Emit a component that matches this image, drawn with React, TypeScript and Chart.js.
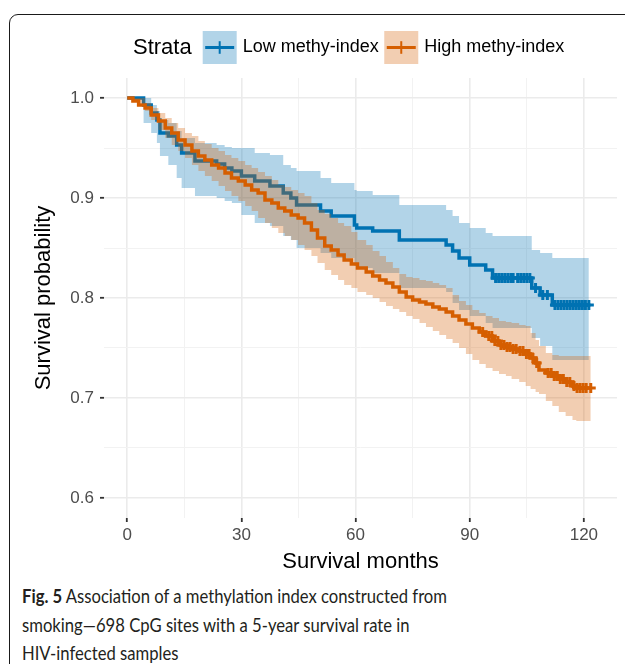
import React, { useEffect, useRef } from "react";
import { Chart, registerables } from "chart.js";

Chart.register(...registerables);

// ---------------- DATA ----------------
const strataLabels = ["Low methy-index", "High methy-index"];
const legendTitle = "Strata";
const xTitle = "Survival months";
const yTitle = "Survival probability";

const xMajorTicks = [0, 30, 60, 90, 120];
const xMinorTicks = [15, 45, 75, 105];
const yMajorTicks = [0.6, 0.7, 0.8, 0.9, 1.0];
const yMinorTicks = [0.65, 0.75, 0.85, 0.95];

// Low methy-index (blue)
const lowTimes = [0, 4.3, 6.3, 7.8, 8.6, 10.8, 13.0, 14.3, 17.8, 23.5, 25.6, 27.5, 30.0, 33.5, 37.5, 41.0, 43.0, 44.5, 50.8, 53.6, 59.7, 60.3, 64.5, 71.5, 83.8, 85.5, 87.2, 90.0, 94.2, 96.0, 106.3, 108.5, 111.7, 121.3];
const lowSurv = [1.0, 0.993, 0.985, 0.978, 0.965, 0.962, 0.953, 0.945, 0.937, 0.934, 0.930, 0.927, 0.922, 0.917, 0.912, 0.905, 0.900, 0.893, 0.887, 0.882, 0.873, 0.870, 0.867, 0.858, 0.853, 0.847, 0.840, 0.833, 0.828, 0.820, 0.810, 0.803, 0.793, 0.793];
const lowUpper = [1.0, 1.0, 0.993, 0.987, 0.978, 0.975, 0.967, 0.960, 0.955, 0.953, 0.951, 0.950, 0.950, 0.945, 0.943, 0.933, 0.930, 0.927, 0.920, 0.915, 0.908, 0.907, 0.903, 0.893, 0.888, 0.882, 0.875, 0.870, 0.865, 0.862, 0.848, 0.845, 0.840, 0.840];
const lowLower = [1.0, 0.975, 0.965, 0.955, 0.942, 0.933, 0.920, 0.910, 0.902, 0.900, 0.897, 0.895, 0.883, 0.875, 0.872, 0.862, 0.858, 0.850, 0.845, 0.840, 0.832, 0.830, 0.825, 0.810, 0.806, 0.795, 0.788, 0.782, 0.775, 0.770, 0.760, 0.752, 0.738, 0.738];
const lowCensorTimes = [96.8, 97.6, 98.4, 99.2, 100.0, 100.8, 101.4, 102.6, 103.4, 104.2, 105.0, 105.8, 107.3, 109.2, 110.4, 112.4, 113.2, 114.0, 114.8, 115.6, 116.4, 117.2, 118.0, 118.8, 119.6, 120.4, 121.3];
const lowCensorSurv = [0.82, 0.82, 0.82, 0.82, 0.82, 0.82, 0.82, 0.82, 0.82, 0.82, 0.82, 0.82, 0.81, 0.803, 0.803, 0.793, 0.793, 0.793, 0.793, 0.793, 0.793, 0.793, 0.793, 0.793, 0.793, 0.793, 0.793];

// High methy-index (orange)
const highTimes = [0, 1.5, 3.0, 4.7, 6.3, 8.2, 10.0, 11.7, 13.4, 15.2, 17.0, 18.7, 20.4, 22.2, 24.0, 25.7, 27.4, 29.2, 31.0, 32.7, 34.4, 36.2, 38.0, 39.7, 41.4, 43.1, 44.9, 46.6, 48.4, 50.0, 51.9, 53.6, 55.4, 57.0, 58.9, 60.5, 62.8, 64.5, 66.3, 68.0, 69.8, 71.5, 73.3, 75.0, 76.8, 78.5, 80.3, 82.0, 83.8, 85.5, 87.2, 89.0, 90.7, 92.5, 94.2, 96.0, 97.7, 99.5, 101.0, 103.0, 104.7, 106.0, 107.3, 108.2, 110.0, 111.7, 113.4, 115.2, 117.0, 118.0, 121.8];
const highSurv = [1.0, 0.997, 0.993, 0.990, 0.983, 0.977, 0.970, 0.965, 0.958, 0.953, 0.947, 0.942, 0.938, 0.933, 0.930, 0.925, 0.920, 0.917, 0.913, 0.908, 0.905, 0.898, 0.895, 0.890, 0.887, 0.883, 0.880, 0.875, 0.868, 0.860, 0.852, 0.848, 0.843, 0.838, 0.834, 0.830, 0.826, 0.822, 0.818, 0.815, 0.811, 0.806, 0.801, 0.798, 0.796, 0.794, 0.791, 0.789, 0.786, 0.782, 0.778, 0.774, 0.770, 0.766, 0.762, 0.757, 0.753, 0.751, 0.749, 0.747, 0.744, 0.740, 0.735, 0.728, 0.725, 0.722, 0.719, 0.716, 0.712, 0.710, 0.710];
const highUpper = [1.0, 1.0, 1.0, 0.995, 0.990, 0.985, 0.980, 0.975, 0.970, 0.965, 0.962, 0.957, 0.954, 0.950, 0.947, 0.943, 0.940, 0.937, 0.933, 0.930, 0.926, 0.922, 0.918, 0.913, 0.911, 0.908, 0.905, 0.902, 0.895, 0.888, 0.884, 0.880, 0.875, 0.872, 0.866, 0.858, 0.853, 0.847, 0.842, 0.836, 0.830, 0.824, 0.821, 0.820, 0.818, 0.817, 0.815, 0.813, 0.810, 0.803, 0.797, 0.793, 0.788, 0.785, 0.782, 0.780, 0.777, 0.776, 0.775, 0.773, 0.772, 0.765, 0.758, 0.752, 0.745, 0.743, 0.742, 0.742, 0.742, 0.742, 0.742];
const highLower = [1.0, 0.998, 0.995, 0.987, 0.978, 0.968, 0.960, 0.953, 0.947, 0.940, 0.933, 0.927, 0.922, 0.917, 0.912, 0.907, 0.902, 0.897, 0.892, 0.887, 0.880, 0.875, 0.870, 0.865, 0.862, 0.858, 0.853, 0.848, 0.842, 0.835, 0.828, 0.823, 0.818, 0.813, 0.810, 0.806, 0.803, 0.800, 0.796, 0.792, 0.789, 0.786, 0.782, 0.779, 0.775, 0.771, 0.767, 0.763, 0.759, 0.755, 0.750, 0.744, 0.738, 0.734, 0.730, 0.727, 0.724, 0.722, 0.719, 0.716, 0.712, 0.709, 0.706, 0.704, 0.697, 0.692, 0.686, 0.682, 0.678, 0.677, 0.677];
const highCensorTimes = [93.4, 95.0, 95.8, 96.6, 97.4, 98.2, 99.0, 99.8, 100.6, 101.4, 102.2, 103.2, 104.0, 104.9, 105.6, 106.6, 107.6, 110.6, 111.4, 112.2, 113.0, 113.8, 114.6, 115.5, 116.3, 117.4, 118.2, 119.0, 119.8, 120.6, 121.8];
const highCensorSurv = [0.766, 0.762, 0.762, 0.757, 0.757, 0.753, 0.753, 0.751, 0.751, 0.749, 0.749, 0.747, 0.747, 0.744, 0.744, 0.740, 0.735, 0.725, 0.725, 0.722, 0.722, 0.719, 0.719, 0.716, 0.716, 0.712, 0.710, 0.710, 0.710, 0.710, 0.710];

// ---------------- STYLE ----------------
const FONT = "'Liberation Sans', Arial, Helvetica, sans-serif";
const lineColors = ["#0072B2", "#D55E00"];
const bandColors = ["rgba(0,114,178,0.3)", "rgba(213,94,0,0.3)"];
const X_MIN = -6.1;
const X_MAX = 128.7;
const Y_MIN = 0.58;
const Y_MAX = 1.02;

const pts = (xs: number[], ys: number[]) => xs.map((x, i) => ({ x, y: ys[i] }));
const isIn = (v: number, arr: number[]) => arr.some((a) => Math.abs(a - v) < 1e-6);

const legendPlugin = {
  id: "kmLegend",
  afterDraw(chart: any) {
    const ctx = chart.ctx;
    ctx.save();
    ctx.textBaseline = "middle";
    ctx.textAlign = "left";
    ctx.font = `22px ${FONT}`;
    ctx.fillStyle = "#000";
    const cy = 47.5;
    let x = 133;
    ctx.fillText(legendTitle, x, cy);
    x += ctx.measureText(legendTitle).width + 11;
    strataLabels.forEach((label, i) => {
      const w = 34;
      const h = 33;
      ctx.fillStyle = bandColors[i];
      ctx.fillRect(x, cy - h / 2, w, h);
      ctx.strokeStyle = lineColors[i];
      ctx.lineWidth = 3;
      ctx.beginPath();
      ctx.moveTo(x + 2.5, cy);
      ctx.lineTo(x + w - 2.5, cy);
      ctx.stroke();
      ctx.lineWidth = 2;
      ctx.beginPath();
      ctx.moveTo(x + w / 2, cy - 6.3);
      ctx.lineTo(x + w / 2, cy + 6.3);
      ctx.stroke();
      x += w + 6;
      ctx.font = `18px ${FONT}`;
      ctx.fillStyle = "#000";
      ctx.fillText(label, x, cy);
      x += ctx.measureText(label).width + 5.5;
    });
    ctx.restore();
  },
};

function gridOpts(major: number[]) {
  return {
    drawOnChartArea: true,
    drawTicks: true,
    tickLength: 4,
    color: (c: any) => (isIn(c.tick?.value, major) ? "#EBEBEB" : "#F2F2F2"),
    lineWidth: (c: any) => (isIn(c.tick?.value, major) ? 1.6 : 1.0),
    tickColor: (c: any) => (isIn(c.tick?.value, major) ? "#333333" : "rgba(0,0,0,0)"),
    tickWidth: (c: any) => (isIn(c.tick?.value, major) ? 1.8 : 0),
  };
}

function KMChart() {
  const ref = useRef<HTMLCanvasElement | null>(null);
  useEffect(() => {
    if (!ref.current) return;
    const stepLine = { stepped: "before", pointRadius: 0, pointHoverRadius: 0 };
    const censor = { showLine: false, pointStyle: "cross", pointRadius: 5, pointBorderWidth: 3, fill: false };
    const chart = new Chart(ref.current, {
      type: "line",
      data: {
        datasets: [
          { ...stepLine, label: "lowUpper", data: pts(lowTimes, lowUpper), borderColor: "rgba(0,0,0,0)", borderWidth: 0, fill: false, order: 8 },
          { ...stepLine, label: "lowLower", data: pts(lowTimes, lowLower), borderColor: "rgba(0,0,0,0)", borderWidth: 0, fill: 0, backgroundColor: bandColors[0], order: 7 },
          { ...stepLine, label: strataLabels[0], data: pts(lowTimes, lowSurv), borderColor: lineColors[0], borderWidth: 3.5, fill: false, order: 6 },
          { ...censor, label: "lowCensor", data: pts(lowCensorTimes, lowCensorSurv), pointBorderColor: lineColors[0], borderColor: lineColors[0], order: 5 },
          { ...stepLine, label: "highUpper", data: pts(highTimes, highUpper), borderColor: "rgba(0,0,0,0)", borderWidth: 0, fill: false, order: 4 },
          { ...stepLine, label: "highLower", data: pts(highTimes, highLower), borderColor: "rgba(0,0,0,0)", borderWidth: 0, fill: 4, backgroundColor: bandColors[1], order: 3 },
          { ...stepLine, label: strataLabels[1], data: pts(highTimes, highSurv), borderColor: lineColors[1], borderWidth: 3.5, fill: false, order: 2 },
          { ...censor, label: "highCensor", data: pts(highCensorTimes, highCensorSurv), pointBorderColor: lineColors[1], borderColor: lineColors[1], order: 1 },
        ] as any,
      },
      options: {
        responsive: false,
        devicePixelRatio: 1,
        animation: false,
        events: [],
        layout: { padding: { left: 0, right: 7, top: 78, bottom: 0 } },
        plugins: {
          legend: { display: false },
          tooltip: { enabled: false },
          title: { display: false },
          filler: { propagate: false },
        },
        scales: {
          x: {
            type: "linear",
            min: X_MIN,
            max: X_MAX,
            afterBuildTicks: (s: any) => {
              s.ticks = [...xMajorTicks, ...xMinorTicks].sort((a, b) => a - b).map((v) => ({ value: v }));
            },
            afterFit: (s: any) => {
              s.height = 58;
            },
            ticks: {
              autoSkip: false,
              maxRotation: 0,
              padding: 3,
              color: "#4D4D4D",
              font: { family: FONT, size: 17 },
              callback: (v: any) => (isIn(Number(v), xMajorTicks) ? String(v) : ""),
            },
            grid: gridOpts(xMajorTicks) as any,
            border: { display: false },
            title: { display: true, text: xTitle, color: "#000", font: { family: FONT, size: 22 }, padding: { top: 0, bottom: 1 } },
          },
          y: {
            type: "linear",
            min: Y_MIN,
            max: Y_MAX,
            afterBuildTicks: (s: any) => {
              s.ticks = [...yMajorTicks, ...yMinorTicks].sort((a, b) => a - b).map((v) => ({ value: v }));
            },
            afterFit: (s: any) => {
              s.width = 104;
            },
            ticks: {
              autoSkip: false,
              padding: 6,
              color: "#4D4D4D",
              font: { family: FONT, size: 17 },
              callback: (v: any) => (isIn(Number(v), yMajorTicks) ? Number(v).toFixed(1) : ""),
            },
            grid: gridOpts(yMajorTicks) as any,
            border: { display: false },
            title: { display: true, text: yTitle, color: "#000", font: { family: FONT, size: 22 }, padding: { top: 30.8, bottom: 0 } },
          },
        },
      } as any,
      plugins: [legendPlugin],
    });
    return () => chart.destroy();
  }, []);
  return <canvas ref={ref} width={625} height={576} style={{ position: "absolute", left: 0, top: 0, width: 625, height: 576 }} />;
}

export default function App() {
  return (
    <div style={{ position: "fixed", left: 0, top: 0, width: 625, height: 664, background: "#fff", overflow: "hidden" }}>
      <div
        style={{
          position: "absolute",
          left: 9,
          top: 13.5,
          width: 700,
          height: 700,
          border: "1.6px solid #1a1a1a",
          borderTopLeftRadius: 9,
          boxSizing: "border-box",
        }}
      />
      <KMChart />
      <div
        style={{
          position: "absolute",
          left: 22,
          top: 582,
          fontFamily: "Lato, 'Open Sans', sans-serif",
          fontSize: 19,
          lineHeight: "28.5px",
          color: "#231F20",
          whiteSpace: "nowrap",
          transform: "scaleX(0.876)",
          transformOrigin: "0 0",
        }}
      >
        <b>Fig. 5</b> Association of a methylation index constructed from
        <br />
        smoking—698 CpG sites with a 5-year survival rate in
        <br />
        HIV-infected samples
      </div>
    </div>
  );
}
